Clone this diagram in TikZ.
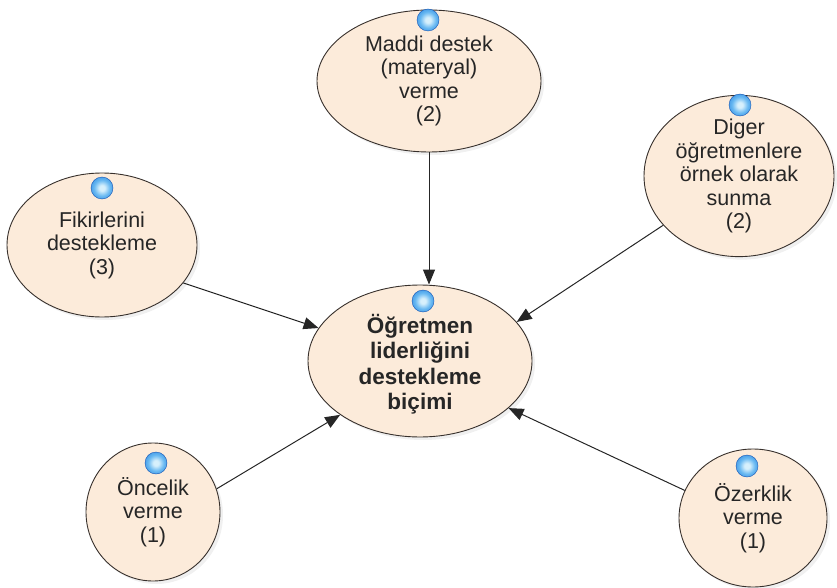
\documentclass[tikz,border=0pt]{standalone}
\usepackage{fontspec}
\setmainfont{Liberation Sans}
\usetikzlibrary{shapes.geometric,arrows.meta,shadows}

\definecolor{peach}{RGB}{252,235,218}
\definecolor{rim}{RGB}{55,48,44}
\definecolor{ink}{RGB}{38,38,38}
\definecolor{orbcore}{RGB}{215,240,252}
\definecolor{orblight}{RGB}{105,185,242}
\definecolor{orbmid}{RGB}{50,140,225}
\definecolor{orbdark}{RGB}{20,85,180}

% glossy marker shading: pale centre, blue body, darker rim
\pgfdeclareradialshading{orbshade}{\pgfpoint{0bp}{0bp}}{%
  color(0bp)=(orbcore); color(6bp)=(orbcore); color(18bp)=(orblight);
  color(32bp)=(orbmid); color(44bp)=(orbdark); color(50bp)=(orbdark)}

\begin{document}
\begin{tikzpicture}[x=1pt,y=-1pt,
  bubble/.style={ellipse, draw=rim, line width=0.9pt, fill=peach,
    inner sep=0pt, align=center, text=ink,
    font=\fontsize{21.5}{23.5}\selectfont,
    drop shadow={opacity=0.12, shadow xshift=3pt, shadow yshift=-3pt}},
  corebubble/.style={bubble, font=\bfseries\fontsize{22.5}{25.5}\selectfont},
  orbnode/.style={circle, minimum size=22pt, inner sep=0pt,
    shading=orbshade, draw=orbdark, line width=0.4pt},
  link/.style={draw=ink, line width=1pt, -{Triangle[length=15pt,width=12pt]}}
]
\useasboundingbox (0,0) rectangle (837,588);

% central concept
\node[corebubble, minimum width=224pt, minimum height=152pt] (core) at (420,361)
  {\rule{0pt}{8pt}\\[-8pt]Öğretmen\\liderliğini\\destekleme\\biçimi};

% surrounding factors
\node[bubble, minimum width=224pt, minimum height=142pt] (maddi) at (429,81)
  {Maddi destek\\(materyal)\\verme\\(2)};
\node[bubble, minimum width=190pt, minimum height=152pt] (diger) at (739,176)
  {Diger\\öğretmenlere\\örnek olarak\\sunma\\(2)};
\node[bubble, minimum width=190pt, minimum height=144pt] (fikir) at (102,245)
  {Fikirlerini\\destekleme\\(3)};
\node[bubble, minimum width=134pt, minimum height=138pt] (oncelik) at (153,512)
  {Öncelik\\verme\\(1)};
\node[bubble, minimum width=148pt, minimum height=138pt] (ozerk) at (753,518)
  {Özerklik\\verme\\(1)};

% blue markers on each bubble
\node[orbnode] (coreorb) at (423,301) {};
\node[orbnode] (maddiorb) at (428,20) {};
\node[orbnode] (digerorb) at (740,105) {};
\node[orbnode] (fikirorb) at (102,188) {};
\node[orbnode] (oncelikorb) at (156,463) {};
\node[orbnode] (ozerkorb) at (747,466) {};

% connectors pointing to the central concept
\draw[link] (maddi.south) -- (maddi.south |- core.north);
\draw[link] (diger.213) -- (core.22);
\draw[link] (fikir.335) -- (core.162);
\draw[link] (oncelik.20) -- (core.214);
\draw[link] (ozerk.158) -- (core.332);
\end{tikzpicture}
\end{document}
